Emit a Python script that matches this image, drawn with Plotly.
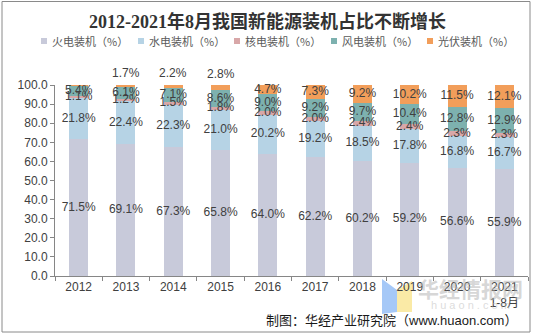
import plotly.graph_objects as go

# Installed capacity share by source (%), 2012 - Aug 2021
years = ["2012", "2013", "2014", "2015", "2016", "2017", "2018", "2019", "2020", "2021<br>1-8月"]
thermal = [71.5, 69.1, 67.3, 65.8, 64.0, 62.2, 60.2, 59.2, 56.6, 55.9]
hydro = [21.8, 22.4, 22.3, 21.0, 20.2, 19.2, 18.5, 17.8, 16.8, 16.7]
nuclear = [1.1, 1.2, 1.5, 1.8, 2.0, 2.0, 2.4, 2.4, 2.3, 2.3]
wind = [5.4, 6.1, 7.1, 8.6, 9.0, 9.2, 9.7, 10.4, 12.8, 12.9]
solar = [0.2, 1.7, 2.2, 2.8, 4.7, 7.3, 9.2, 10.2, 11.5, 12.1]

series_names = ["火电装机（%）", "水电装机（%）", "核电装机（%）", "风电装机（%）", "光伏装机（%）"]
series_values = [thermal, hydro, nuclear, wind, solar]
series_colors = ["#C8CADA", "#B6D3E5", "#D8A7A8", "#7DB1AF", "#F29E5A"]
# Segments with no printed value
hidden_labels = {(4, 0)}

Y_MAX = 100

# Plot-area geometry in pixels (used to place decorations in paper space)
FIG_W, FIG_H = 535, 335
M_L, M_R, M_T, M_B = 55, 7, 85, 59
PW = FIG_W - M_L - M_R
PH = FIG_H - M_T - M_B


def px(x):
    return (x - M_L) / PW


def py(y):
    return (FIG_H - M_B - y) / PH


LABEL_FONT = dict(family="Liberation Sans, Arial, sans-serif", size=12, color="#404040")

fig = go.Figure()

# Stacked bars
for name, vals, col in zip(series_names, series_values, series_colors):
    fig.add_trace(go.Bar(
        x=years, y=vals, name=name, marker=dict(color=col, line=dict(width=0)),
        showlegend=False, hoverinfo="x+y",
    ))

shapes = []
annotations = []

# Value labels: centred in each segment, small top segments printed above the bar
base = [0.0] * len(years)
for si, vals in enumerate(series_values):
    mid_x, mid_y, mid_t = [], [], []
    for i, v in enumerate(vals):
        if (si, i) not in hidden_labels:
            label = f"{v:.1f}%"
            if si == len(series_values) - 1 and v < 3:
                # bar top may sit a hair above the axis range, so anchor in paper space
                annotations.append(dict(
                    xref="x", yref="paper", x=i, y=(base[i] + v) / Y_MAX,
                    xanchor="center", yanchor="bottom", yshift=2, showarrow=False,
                    text=label, font=LABEL_FONT,
                ))
            else:
                mid_x.append(years[i]); mid_y.append(base[i] + v / 2); mid_t.append(label)
        base[i] += v
    fig.add_trace(go.Scatter(
        x=mid_x, y=mid_y, text=mid_t, mode="text", textposition="middle center",
        textfont=LABEL_FONT, showlegend=False, hoverinfo="skip", cliponaxis=False,
    ))

# Legend row
legend_x = [41, 138, 234, 331, 427]
for lx, name, col in zip(legend_x, series_names, series_colors):
    shapes.append(dict(type="rect", xref="paper", yref="paper",
                       x0=px(lx), x1=px(lx + 6), y0=py(44), y1=py(38),
                       fillcolor=col, line=dict(width=0)))
    annotations.append(dict(xref="paper", yref="paper", x=px(lx + 9), y=py(41),
                            xanchor="left", yanchor="middle", showarrow=False,
                            text=name, font=dict(family="Noto Sans CJK SC, sans-serif",
                                                 size=11, color="#595959")))

# Title
annotations.append(dict(xref="paper", yref="paper", x=px(267), y=py(21),
                        xanchor="center", yanchor="middle", showarrow=False,
                        text="<b>2012-2021年8月我国新能源装机占比不断增长</b>",
                        font=dict(family="Liberation Serif, Noto Sans CJK SC, serif",
                                  size=18, color="#333333")))

# Watermark logo
shapes.append(dict(type="path", xref="paper", yref="paper",
                   path=f"M {px(382)},{py(279)} L {px(397)},{py(290)} L {px(397)},{py(312)} L {px(382)},{py(314)} Z",
                   fillcolor="#A5C8F7", line=dict(width=0), layer="below"))
shapes.append(dict(type="path", xref="paper", yref="paper",
                   path=f"M {px(397)},{py(290)} L {px(412)},{py(281)} L {px(412)},{py(312)} L {px(397)},{py(312)} Z",
                   fillcolor="#FAEAA6", line=dict(width=0), layer="below"))
annotations.append(dict(xref="paper", yref="paper", x=px(470), y=py(288),
                        xanchor="center", yanchor="middle", showarrow=False,
                        text="<b>华经情报网</b>",
                        font=dict(family="Noto Sans CJK SC, sans-serif", size=21,
                                  color="rgba(180,180,180,0.55)")))
annotations.append(dict(xref="paper", yref="paper", x=px(470), y=py(305),
                        xanchor="center", yanchor="middle", showarrow=False,
                        text="h u a o n . c o m",
                        font=dict(family="Liberation Sans, sans-serif", size=11,
                                  color="rgba(190,190,190,0.55)")))

# Source note
annotations.append(dict(xref="paper", yref="paper", x=px(519), y=py(320),
                        xanchor="right", yanchor="middle", showarrow=False,
                        text="制图：华经产业研究院（www.huaon.com）",
                        font=dict(family="Liberation Sans, Noto Sans CJK SC, sans-serif",
                                  size=13, color="#1a1a1a")))

# Outer frame
shapes.append(dict(type="rect", xref="paper", yref="paper",
                   x0=px(2), x1=px(530), y0=py(332), y1=py(1.5),
                   line=dict(color="#8A8A8A", width=1), fillcolor="rgba(0,0,0,0)"))

fig.update_layout(
    width=FIG_W, height=FIG_H,
    margin=dict(l=M_L, r=M_R, t=M_T, b=M_B, pad=0),
    barmode="stack", bargap=0.6,
    plot_bgcolor="white", paper_bgcolor="white",
    font=dict(family="Liberation Sans, Arial, Noto Sans CJK SC, sans-serif", size=12, color="#404040"),
    showlegend=False,
    shapes=shapes, annotations=annotations,
    xaxis=dict(showline=True, linecolor="#868686", linewidth=1, ticks="outside",
               tickson="boundaries", ticklen=4, tickcolor="#868686", showgrid=False,
               tickfont=dict(size=12, color="#404040"), fixedrange=True),
    yaxis=dict(range=[0, Y_MAX], tickvals=list(range(0, 101, 10)), tickformat=".1f",
               ticksuffix="%", showline=True, linecolor="#868686", linewidth=1,
               ticks="outside", ticklen=4, tickcolor="#868686", showgrid=False,
               zeroline=False, tickfont=dict(size=12, color="#404040"), fixedrange=True),
)

fig.write_html("out.html")
